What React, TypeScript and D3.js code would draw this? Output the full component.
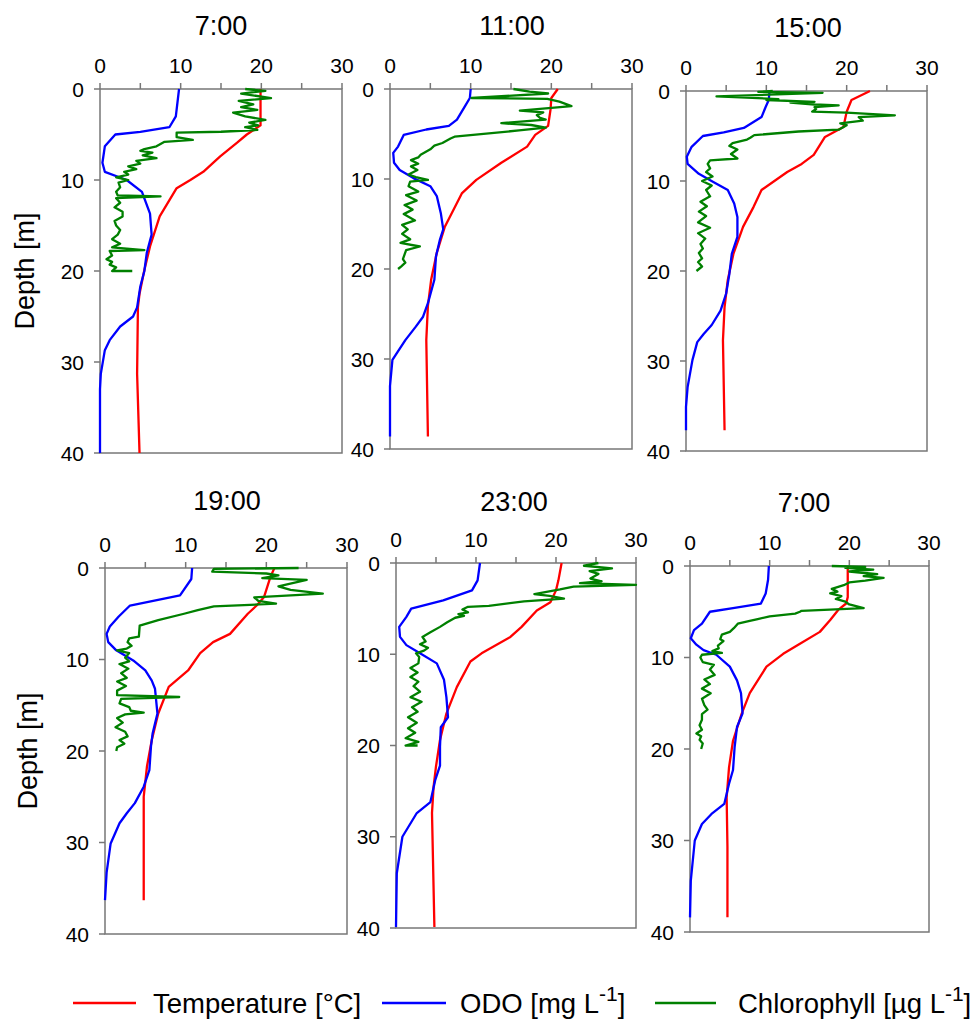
import React from "react";
import * as d3 from "d3";

// each point is [depth (m), value]
type Pt = [number, number];

const titles = ["7:00", "11:00", "15:00", "19:00", "23:00", "7:00"];
const xTicks = [0, 5, 10, 15, 20, 25, 30];
const xTickLabels = [0, 10, 20, 30];
const yTicks = [0, 10, 20, 30, 40];
const seriesNames = ["Temperature [°C]", "ODO [mg L", "Chlorophyll [µg L"];
const seriesColors = ["#ff0000", "#0000ff", "#008000"];

// ---- 7:00 (day 1)
const temp0700a: Pt[] = [[0, 19.9], [4, 19.9], [5, 18.2], [5.9, 17], [7.4, 14.9], [9.1, 12.8], [10, 11.2], [10.9, 9.5], [14, 7.4], [17.3, 6.2], [19.9, 5.5], [22.5, 4.9], [24, 4.7], [31.3, 4.6], [40, 4.9]];
const odo0700a: Pt[] = [[0, 9.8], [3, 9.4], [4.2, 8.6], [4.7, 5], [5, 1.9], [6.3, 0.6], [8.1, 0.3], [9.1, 0.6], [10, 3.3], [11.3, 5.2], [13.7, 6.2], [16, 6.4], [18, 5.8], [20, 5.5], [21.7, 5], [24, 4.6], [25, 4.1], [26.1, 2.5], [27.6, 1.2], [28.7, 0.6], [31.3, 0.1], [33, 0], [40, 0]];
const chl0700a: Pt[] = [[0, 18], [0.2, 20.5], [0.5, 17.5], [1, 21.2], [1.3, 17.2], [1.7, 19], [2, 17.5], [2.3, 19.5], [2.6, 16.5], [3, 18], [3.4, 20.5], [3.7, 18.5], [4, 19.6], [4.2, 18], [4.5, 19.5], [4.7, 15], [4.8, 9.5], [5.3, 9.5], [5.6, 11.5], [5.8, 8], [6.3, 7], [6.6, 5.5], [6.8, 5], [7, 6.5], [7.3, 5.3], [7.6, 7], [7.9, 4.5], [8.2, 5], [8.5, 3.5], [8.8, 4.5], [9.1, 3], [9.4, 3.5], [9.7, 2], [10, 3.5], [10.3, 2.3], [10.8, 2.5], [11.3, 2], [11.7, 2.2], [11.8, 7.5], [12, 2], [12.5, 2.5], [13, 1.8], [13.5, 2.8], [14, 2.8], [14.5, 1.8], [15, 2], [15.5, 2.5], [16, 2.2], [16.5, 1.5], [17, 2.5], [17.4, 1.5], [17.7, 5.5], [17.8, 1.2], [18.3, 1.5], [18.7, 0.8], [19, 1.5], [19.3, 1.2], [19.6, 2], [20, 1.5], [20, 4]];

// ---- 11:00
const temp1100: Pt[] = [[0, 20.8], [1, 20], [2.3, 19.9], [4.1, 19.6], [5.1, 18], [6.4, 17], [8.2, 13.8], [10.1, 10.7], [11.6, 8.9], [15.3, 6.8], [18.2, 5.8], [21.2, 5.1], [24.1, 4.7], [27.9, 4.5], [38.6, 4.7]];
const odo1100: Pt[] = [[0, 10], [1, 9.9], [1.9, 9.3], [3.4, 8.3], [4.1, 7.3], [4.5, 4.5], [5.1, 1.7], [6.4, 1], [7.1, 0.4], [8.2, 0.5], [9, 1.2], [9.9, 2.9], [10.8, 5], [11.9, 5.8], [13.8, 6.3], [15.6, 6.6], [16.7, 6.2], [18.6, 5.7], [21.2, 5.5], [23.8, 4.7], [25.3, 4.1], [26.4, 3.2], [27.9, 1.9], [30.1, 0.3], [33, 0], [38.6, 0]];
const chl1100: Pt[] = [[0, 15.3], [0.3, 17.3], [0.5, 19.6], [1, 10.1], [1.1, 19.5], [1.4, 21], [1.9, 22.5], [2.4, 16.1], [2.6, 19], [2.9, 18.2], [3.2, 18.6], [3.4, 19.3], [3.8, 13.8], [4, 17.5], [4.3, 19.3], [4.6, 16], [5.3, 8], [5.5, 7.5], [6, 6.5], [6.3, 5.5], [6.7, 5], [7.3, 3.8], [7.6, 3.5], [7.9, 2.6], [8.3, 3.5], [8.6, 2.6], [9, 3.4], [9.5, 2.3], [9.8, 3.2], [10.1, 4.7], [10.3, 2.5], [10.8, 2.3], [11.4, 3.5], [11.8, 2], [12.4, 3.3], [12.9, 1.8], [13.4, 2.8], [13.9, 1.7], [14.6, 3.1], [15.1, 1.5], [15.6, 2.2], [16.1, 1.5], [16.7, 2.5], [17.1, 1.3], [17.5, 3.7], [17.9, 2], [18.4, 1.8], [18.9, 1.6], [19.3, 1.9], [19.7, 1.4], [20, 1]];

// ---- 15:00
const temp1500: Pt[] = [[0, 22.9], [1, 20.6], [2.3, 20], [4, 19.6], [5.1, 17.3], [7.1, 15.9], [8.1, 14.4], [9, 12.6], [11, 9.4], [12.9, 8.4], [15.1, 7.1], [18.1, 5.9], [21, 5.2], [24, 4.8], [27.7, 4.6], [37.7, 4.8]];
const odo1500: Pt[] = [[0, 10.4], [1, 10.3], [1.8, 9.9], [2.9, 9.4], [4.1, 7.2], [4.6, 4.7], [5, 2.1], [6.2, 0.7], [7.3, 0.1], [8.1, 0.2], [9.2, 1.6], [10.1, 3.4], [11, 5.2], [12.5, 6], [14, 6.4], [16.2, 6.4], [18.1, 5.7], [20.3, 5.4], [22.5, 5], [24.4, 4.3], [26, 3.2], [27, 2.2], [27.9, 1.4], [29.9, 0.8], [32.9, 0.2], [35.1, 0], [37.7, 0]];
const chl1500: Pt[] = [[0, 10.8], [0.1, 9], [0.2, 17], [0.6, 3.8], [0.9, 11.5], [1, 10], [1.2, 16], [1.3, 13], [1.5, 16], [1.6, 19], [1.8, 16], [2, 16.2], [2.3, 15.7], [2.4, 20], [2.7, 26], [2.9, 21.5], [3.3, 22], [3.6, 19.2], [3.8, 20], [4.3, 19], [4.5, 14], [4.9, 8.5], [5.2, 8], [5.4, 7.6], [5.8, 5.8], [6.1, 5.4], [6.5, 6.4], [7, 5.6], [7.5, 6.4], [7.7, 3], [8.1, 2.7], [8.6, 3], [9, 2.5], [9.5, 3.3], [10, 2], [10.5, 3.2], [11, 2.5], [11.7, 3], [12.3, 1.8], [12.8, 2.6], [13.4, 1.6], [13.9, 2.5], [14.6, 1.5], [15.2, 3], [15.8, 1.5], [16.4, 2.4], [17, 1.8], [17.5, 2.1], [18, 1.6], [18.6, 2], [19, 1.5], [19.5, 2], [20, 1.3]];

// ---- 19:00
const temp1900: Pt[] = [[0, 21], [1, 20.5], [3.2, 19.7], [4.1, 18.8], [5, 17.7], [7.2, 15.5], [8.1, 13.4], [9.3, 11.8], [11.2, 10.3], [13, 7.9], [15.9, 6.6], [18.8, 5.8], [21.7, 5.2], [25, 4.8], [36.3, 4.8]];
const odo1900: Pt[] = [[0, 10.8], [1.2, 10.7], [3, 9.3], [4.1, 3.1], [5.3, 1.7], [6.4, 0.6], [7.2, 0.2], [8.1, 0.4], [9, 1.4], [10.1, 3.5], [11.2, 5], [12.3, 5.8], [13.2, 6.2], [15.9, 6.5], [18.1, 5.9], [19.5, 5.7], [22.1, 5.5], [23.9, 4.8], [25.7, 3.7], [26.8, 2.7], [27.9, 1.8], [30.1, 0.7], [33.3, 0.2], [36.3, 0]];
const chl1900: Pt[] = [[0, 24], [0.1, 13.5], [0.4, 13.3], [0.6, 20], [0.8, 21.5], [1.1, 19.5], [1.3, 25], [2, 21.5], [2.4, 23], [2.8, 27], [3.2, 18.5], [3.6, 19], [3.9, 21.2], [4.2, 13.5], [4.6, 11.5], [5, 9.8], [5.7, 6.6], [6.3, 4.3], [7.5, 4.2], [7.7, 3], [8.1, 2.8], [8.5, 3.3], [8.8, 2.7], [9, 1.5], [9.3, 3], [9.8, 2.5], [10.2, 3], [10.5, 1.8], [11, 2.9], [11.5, 2], [12, 2.7], [12.4, 1.5], [12.9, 2.6], [13.4, 1.5], [13.9, 1.5], [14.1, 9.2], [14.3, 2], [14.8, 1.8], [15.2, 3], [15.6, 3.2], [15.8, 4.8], [16, 2.5], [16.4, 1.5], [16.9, 2.2], [17.4, 1.3], [17.9, 2.5], [18.4, 2.8], [18.8, 1.8], [19.2, 2.4], [19.6, 1.5], [20, 1.4]];

// ---- 23:00
const temp2300: Pt[] = [[0, 20.7], [1.9, 20.3], [3, 20], [4.3, 19.3], [5.2, 17.6], [7, 15.7], [8.1, 14.3], [9.9, 10.7], [10.8, 9.3], [13.6, 7.6], [16.5, 6.3], [19.4, 5.5], [22.3, 5], [24.5, 4.7], [27.4, 4.5], [39.9, 4.8]];
const odo2300: Pt[] = [[0, 10.5], [1.9, 10.2], [3, 9.5], [4.1, 5.9], [5, 1.9], [5.9, 1.3], [7, 0.4], [8.1, 0.5], [9, 1.3], [9.9, 3], [11, 5.1], [12.8, 6], [14.7, 6.3], [16.9, 6.5], [18, 5.6], [20.1, 5.5], [22.2, 5.5], [23.8, 4.9], [26.2, 4.3], [27.4, 2.6], [30, 0.8], [34, 0.1], [39.9, 0]];
const chl2300: Pt[] = [[0, 25.3], [0.3, 23.5], [0.6, 27], [0.9, 24.2], [1.2, 25.3], [1.7, 24.3], [2, 25.7], [2.2, 23], [2.4, 30], [2.6, 22.2], [2.9, 20.5], [3.4, 17.3], [3.6, 19.2], [3.9, 21], [4.2, 16], [4.7, 11.6], [4.8, 9], [5.1, 8.3], [5.4, 9], [5.6, 7.8], [5.8, 8.5], [6, 7.4], [6.5, 6.4], [7, 5.5], [7.6, 4.3], [8.1, 3.3], [8.6, 3.7], [8.9, 3], [9.3, 4], [9.6, 3.5], [9.9, 2.5], [10.3, 2.9], [11, 2.8], [11.5, 1.8], [12, 2.7], [12.5, 1.8], [13, 2.8], [13.5, 2.2], [14.1, 3], [14.7, 1.8], [15.2, 3.2], [15.8, 2], [16.3, 2.7], [16.9, 1.5], [17.5, 2.6], [18.1, 1.5], [18.6, 2.4], [19.2, 1.2], [19.6, 2.8], [20, 1.2], [20, 2.7]];

// ---- 7:00 (day 2)
const temp0700b: Pt[] = [[0, 19.8], [3.4, 19.8], [4.1, 19.6], [4.8, 18.6], [5.9, 17.6], [7.2, 16.3], [8.5, 13.8], [9.6, 11.7], [11, 9.6], [13.9, 7.5], [16.1, 6.5], [19.1, 5.4], [22, 4.9], [25.3, 4.6], [30.7, 4.7], [38.4, 4.7]];
const odo0700b: Pt[] = [[0, 9.9], [1.5, 9.8], [3, 9.5], [4.1, 8.9], [4.6, 5.4], [5, 2.5], [6.3, 1.5], [7, 0.5], [7.9, 0.1], [8.6, 0.8], [9.2, 1.7], [9.7, 3.3], [11, 5], [12.5, 5.9], [13.9, 6.4], [16.1, 6.6], [17.6, 5.9], [19.8, 5.6], [22.3, 5.4], [23.8, 4.9], [26, 4.3], [27.1, 2.7], [28.2, 1.5], [30, 0.6], [34.4, 0.1], [38.4, 0]];
const chl0700b: Pt[] = [[0, 17.8], [0.1, 22], [0.2, 19.5], [0.4, 23], [0.6, 20], [0.9, 23.5], [1.1, 21.8], [1.3, 24.3], [1.6, 22], [1.8, 20], [2.1, 19.3], [2.5, 17.8], [2.8, 18.5], [3, 17.6], [3.3, 19], [3.6, 18.3], [3.9, 19.5], [4.2, 20], [4.6, 21.8], [4.9, 14], [5, 13.8], [5.2, 13.2], [5.5, 10], [5.8, 8.5], [6, 7.5], [6.3, 6], [6.8, 5.5], [7.2, 5], [7.5, 4], [8, 3.8], [8.2, 4.2], [8.7, 3.5], [9, 3.6], [9.3, 2.8], [9.5, 4], [9.7, 1.5], [10, 1.3], [10.5, 1.6], [10.8, 3], [11.3, 2.5], [11.9, 3.1], [12.4, 1.8], [12.9, 2.5], [13.4, 1.5], [13.9, 2.6], [14.5, 1.5], [15.2, 1.8], [15.7, 2.2], [16.2, 1.5], [16.8, 1.5], [17.4, 1.2], [17.9, 1.5], [18.3, 0.8], [18.6, 1.4], [19, 1.2], [19.4, 1.6], [20, 1.4]];

const tempSeries = [temp0700a, temp1100, temp1500, temp1900, temp2300, temp0700b];
const odoSeries = [odo0700a, odo1100, odo1500, odo1900, odo2300, odo0700b];
const chlSeries = [chl0700a, chl1100, chl1500, chl1900, chl2300, chl0700b];

// panel boxes on the page (plot area), title anchor, y-label x
const layout = [
  { x0: 100, x1: 342, y0: 89, y1: 453, tx: 221, ty: 35, ylab: 24 },
  { x0: 390, x1: 632, y0: 89, y1: 449, tx: 512, ty: 35 },
  { x0: 686, x1: 927, y0: 91, y1: 451, tx: 808, ty: 37 },
  { x0: 105, x1: 347, y0: 568, y1: 934, tx: 227, ty: 510, ylab: 27 },
  { x0: 396, x1: 636, y0: 563, y1: 928, tx: 514, ty: 511 },
  { x0: 690, x1: 929, y0: 566, y1: 932, tx: 804, ty: 512 },
];

const FONT = "'Liberation Sans', Arial, sans-serif";
const AXIS = "#777";

const Panel = ({ i }: { i: number }) => {
  const b = layout[i];
  const x = d3.scaleLinear().domain([0, 30]).range([b.x0, b.x1]);
  const y = d3.scaleLinear().domain([0, 40]).range([b.y0, b.y1]);
  const line = d3
    .line<Pt>()
    .x((d) => x(d[1]))
    .y((d) => y(d[0]));
  const series = [tempSeries[i], odoSeries[i], chlSeries[i]];

  return (
    <g>
      <text x={b.tx} y={b.ty} fontSize={27} textAnchor="middle" fontFamily={FONT}>
        {titles[i]}
      </text>
      {/* frame */}
      <rect x={b.x0} y={b.y0} width={b.x1 - b.x0} height={b.y1 - b.y0} fill="none" stroke={AXIS} strokeWidth={1.5} />
      {xTicks.map((t) => (
        <line key={"xt" + t} x1={x(t)} x2={x(t)} y1={b.y0} y2={b.y0 - 6} stroke={AXIS} strokeWidth={1.5} />
      ))}
      {xTickLabels.map((t) => (
        <text key={"xl" + t} x={x(t)} y={b.y0 - 16} fontSize={21} textAnchor="middle" fontFamily={FONT}>
          {t}
        </text>
      ))}
      {yTicks.map((t) => (
        <g key={"yt" + t}>
          <line x1={b.x0 - 6} x2={b.x0} y1={y(t)} y2={y(t)} stroke={AXIS} strokeWidth={1.5} />
          <text x={b.x0 - 16} y={y(t)} dy="0.36em" fontSize={21} textAnchor="end" fontFamily={FONT}>
            {t}
          </text>
        </g>
      ))}
      {b.ylab !== undefined && (
        <text
          transform={`translate(${b.ylab},${(b.y0 + b.y1) / 2}) rotate(-90)`}
          dy="0.36em"
          fontSize={27}
          textAnchor="middle"
          fontFamily={FONT}
        >
          Depth [m]
        </text>
      )}
      {[0, 1, 2].map((k) => (
        <path key={"s" + k} d={line(series[k]) || ""} fill="none" stroke={seriesColors[k]} strokeWidth={2.3} strokeLinejoin="round" />
      ))}
    </g>
  );
};

const legendPos = [
  { l0: 73, l1: 136, t: 153 },
  { l0: 382, l1: 446, t: 460 },
  { l0: 655, l1: 716, t: 738 },
];

export default function App() {
  return (
    <svg width={973} height={1028} style={{ position: "absolute", left: 0, top: 0, background: "#fff" }}>
      {layout.map((_, i) => (
        <Panel key={i} i={i} />
      ))}
      {legendPos.map((p, k) => (
        <g key={"lg" + k}>
          <line x1={p.l0} x2={p.l1} y1={1003} y2={1003} stroke={seriesColors[k]} strokeWidth={2.5} />
          <text x={p.t} y={1013} fontSize={27.5} fontFamily={FONT}>
            {seriesNames[k]}
            {k > 0 && (
              <>
                <tspan dy={-12} fontSize={21}>-1</tspan>
                <tspan dy={12}>]</tspan>
              </>
            )}
          </text>
        </g>
      ))}
    </svg>
  );
}
